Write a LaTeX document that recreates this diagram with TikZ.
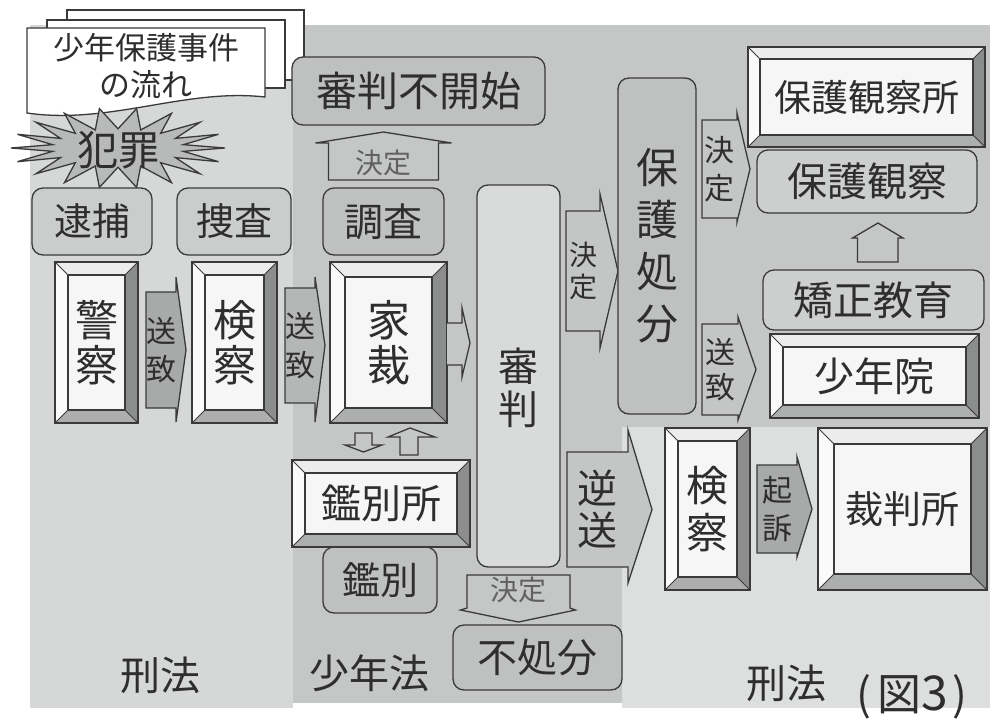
\documentclass[tikz,border=0pt]{standalone}
\usepackage{fontspec}
\setmainfont{Noto Sans CJK JP}
\pgfdeclarelayer{panel}
\pgfdeclarelayer{back}
\pgfsetlayers{panel,back,main}
\definecolor{pL}{HTML}{D6D8D8}
\definecolor{pM}{HTML}{C5C6C6}
\definecolor{pR}{HTML}{DDDFDF}
\definecolor{txt}{HTML}{2E2E2E}
\definecolor{lnc}{HTML}{3A3A3A}
\definecolor{rfL}{HTML}{CBCDCD}
\definecolor{rfM}{HTML}{BFC0C0}
\definecolor{rfS}{HTML}{D9DADA}
\definecolor{rfR}{HTML}{CDCECE}
\definecolor{afD}{HTML}{A8A9A9}
\definecolor{afM}{HTML}{B5B6B6}
\definecolor{afL}{HTML}{C4C5C5}
\definecolor{bvT}{HTML}{ECECEC}
\definecolor{bvL}{HTML}{FAFAFA}
\definecolor{bvR}{HTML}{8C8D8D}
\definecolor{bvB}{HTML}{ADAEAE}
\definecolor{bvI}{HTML}{F6F6F6}
\definecolor{burst}{HTML}{B8B9B9}
\newcommand\jfs[2]{\fontsize{#1}{#2}\selectfont}
\newcommand\bevw{13pt}
\newcommand\blockarrow[5]{\begin{pgfonlayer}{back}\draw[ink, fill=#2] (#1.south west) -- (#1.north west) -- (#1.north east) -- ([yshift=#3]#1.north east) -- ([xshift=#5]#1.east) -- ([yshift=-#4]#1.south east) -- (#1.south east) -- cycle;\end{pgfonlayer}}
\tikzset{
  ink/.style={draw=lnc, line width=1.3pt, line join=miter},
  rbox/.style={ink, rounded corners=11pt, inner sep=0pt, outer sep=0pt, text=txt, align=center},
  bw/.code={\renewcommand\bevw{#1}},
  bevel/.style={ink, fill=bvI, inner sep=0pt, outer sep=0pt, text=txt, align=center,
    path picture={
      \path (path picture bounding box.north west) coordinate (q1)
            (path picture bounding box.north east) coordinate (q2)
            (path picture bounding box.south east) coordinate (q3)
            (path picture bounding box.south west) coordinate (q4);
      \path ([xshift=\bevw,yshift=-\bevw]q1) coordinate (p1)
            ([xshift=-\bevw,yshift=-\bevw]q2) coordinate (p2)
            ([xshift=-\bevw,yshift=\bevw]q3) coordinate (p3)
            ([xshift=\bevw,yshift=\bevw]q4) coordinate (p4);
      \fill[bvT] (q1)--(q2)--(p2)--(p1)--cycle;
      \fill[bvL] (q1)--(p1)--(p4)--(q4)--cycle;
      \fill[bvR] (q2)--(q3)--(p3)--(p2)--cycle;
      \fill[bvB] (q4)--(p4)--(p3)--(q3)--cycle;
      \draw[lnc, line width=1.1pt] (p1) rectangle (p3);
      \draw[lnc, line width=0.8pt] (q1)--(p1) (q2)--(p2) (q3)--(p3) (q4)--(p4);
    }},
  abody/.style={inner sep=0pt, outer sep=0pt, text=txt, align=center},
  plain/.style={inner sep=0pt, text=txt, align=center},
}
\begin{document}
\begin{tikzpicture}[x=1pt,y=-1pt]
\useasboundingbox (0,0) rectangle (998,718);
\begin{pgfonlayer}{panel}
\fill[white] (0,0) rectangle (998,718);
\fill[pL] (30,25) rectangle (293,708);
\fill[pM] (293,25) rectangle (622,703);
\fill[pM] (622,25) rectangle (990,427);
\fill[pR] (622,427) rectangle (990,708);
\end{pgfonlayer}

% document stack
\draw[ink, fill=white] (67,10) rectangle (304,80);
\draw[ink, fill=white] (47,20) rectangle (285,88);
\draw[ink, fill=white] (27,28) -- (265,28) -- (265,97) .. controls (185,88) and (110,125) .. (27,113) -- cycle;
\node[plain, font=\jfs{31}{37}] (title) at (146,66) {少年保護事件\\の流れ};

% crime burst
\draw[ink, fill=burst] plot[samples=37, domain=0:360]
  ({118+107*(0.81+0.19*cos(18*\x))*cos(\x)}, {148+40*(0.74+0.26*cos(18*\x))*sin(\x)}) -- cycle;
\node[plain, font=\jfs{41}{42}] (crime) at (118,150) {犯罪};

% rounded boxes
\node[rbox, fill=rfL, minimum width=120pt, minimum height=67pt, font=\jfs{38}{40}] (taiho) at (92,221.5) {逮捕};
\node[rbox, fill=rfL, minimum width=114pt, minimum height=67pt, font=\jfs{38}{40}] (sousa) at (234,221.5) {捜査};
\node[rbox, fill=rfM, minimum width=121pt, minimum height=67pt, font=\jfs{39}{40}] (chousa) at (383.5,221.5) {調査};
\node[rbox, fill=rfM, minimum width=253pt, minimum height=68pt, font=\jfs{41}{43}] (fukaishi) at (418.5,91) {審判不開始};
\node[rbox, fill=rfS, minimum width=83pt, minimum height=382pt, font=\jfs{40}{43}] (shinpan) at (518.5,376) {\rule{0pt}{57pt}審\\判};
\node[rbox, fill=rfM, minimum width=114pt, minimum height=66pt, font=\jfs{38}{40}] (kanbetsu) at (380,580) {鑑別};
\node[rbox, fill=rfM, minimum width=169pt, minimum height=65pt, font=\jfs{40}{42}] (fushobun) at (537.5,657.5) {不処分};
\node[rbox, fill=rfM, minimum width=78pt, minimum height=336pt, font=\jfs{42}{52}] (hogoshobun) at (657,246) {保\\護\\処\\分};
\node[rbox, fill=rfR, minimum width=220pt, minimum height=63pt, font=\jfs{40}{42}] (hogokansatsu) at (867,181.5) {保護観察};
\node[rbox, fill=rfR, minimum width=221pt, minimum height=60pt, font=\jfs{40}{42}] (kyousei) at (873.5,300) {矯正教育};

% bevel boxes
\node[bevel, minimum width=83pt, minimum height=161pt, font=\jfs{43}{45}] (keisatsu) at (96.5,342.5) {警\\察};
\node[bevel, minimum width=85pt, minimum height=161pt, font=\jfs{43}{45}] (kensatsuL) at (234.5,342.5) {検\\察};
\node[bevel, bw=15pt, minimum width=117pt, minimum height=161pt, font=\jfs{43}{45}] (kasai) at (388.5,342.5) {家\\裁};
\node[bevel, minimum width=178pt, minimum height=87pt, font=\jfs{40}{42}] (kanbetsusho) at (381,503.5) {鑑別所};
\node[bevel, bw=12pt, minimum width=237pt, minimum height=100pt, font=\jfs{37}{40}] (hogokansatsusho) at (866.5,97) {保護観察所};
\node[bevel, minimum width=209pt, minimum height=84pt, font=\jfs{40}{42}] (shounenin) at (874.5,376) {少年院};
\node[bevel, minimum width=85pt, minimum height=162pt, font=\jfs{42}{47}] (kensatsuR) at (707.5,509) {検\\察};
\node[bevel, bw=16pt, minimum width=169pt, minimum height=162pt, font=\jfs{38}{40}] (saibansho) at (902.5,509) {裁判所};

% block arrows
\node[abody, minimum width=28pt, minimum height=116pt, font=\jfs{30}{38}] (sd1) at (161,350) {送\\致};
\blockarrow{sd1}{afD}{15pt}{14pt}{10pt}
\node[abody, minimum width=30pt, minimum height=115pt, font=\jfs{30}{39}] (sd2) at (300,345.5) {送\\致};
\blockarrow{sd2}{afM}{11pt}{19pt}{10pt}
\node[abody, minimum width=34pt, minimum height=120pt, font=\jfs{28}{32}] (kt1) at (583,271) {決\\定};
\blockarrow{kt1}{afL}{17pt}{17pt}{18pt}
\node[abody, minimum width=35pt, minimum height=98pt, font=\jfs{30}{38}] (kt2) at (719.5,169) {決\\定};
\blockarrow{kt2}{afL}{7pt}{4pt}{13pt}
\node[abody, minimum width=36pt, minimum height=91pt, font=\jfs{30}{35}] (sd3) at (720,369.5) {送\\致};
\blockarrow{sd3}{afL}{7pt}{5pt}{18pt}
\node[abody, minimum width=61pt, minimum height=115pt, font=\jfs{40}{42}] (gyakusou) at (597.5,509.5) {逆\\送};
\blockarrow{gyakusou}{afL}{22pt}{16pt}{24pt}
\node[abody, minimum width=40pt, minimum height=88pt, font=\jfs{30}{38}] (kiso) at (777,509) {起\\訴};
\blockarrow{kiso}{afD}{8pt}{4pt}{15pt}

% decision house arrow: chousa -> fukaishi
\node[abody, font=\jfs{28}{30}, text=black!62] (kt0) at (383.5,163) {決定};
\begin{pgfonlayer}{back}
\draw[ink, fill=pM, shift={(chousa.north)}] (-55,-8) -- (-55,-45) -- (-68,-45) -- (0,-56) -- (68,-45) -- (55,-45) -- (55,-8) -- cycle;
\end{pgfonlayer}

% decision down arrow: shinpan -> fushobun
\node[abody, font=\jfs{28}{30}, text=black!62] (kt3) at (518,590) {決定};
\begin{pgfonlayer}{back}
\draw[ink, fill=pM, shift={(shinpan.south)}] (-51.5,8) -- (51.5,8) -- (51.5,41) -- (57,43) -- (0,55) -- (-58,43) -- (-51.5,41) -- cycle;
\end{pgfonlayer}

% small arrows
\draw[ink, fill=pM, shift={(kasai.east)}] (0,-19.5) -- (15,-19.5) -- (15,-34.5) -- (23,0.5) -- (15,34.5) -- (15,22.5) -- (0,22.5);
\draw[ink, fill=pM, shift={(kasai.south)}] (-33.5,10) -- (-16.5,10) -- (-16.5,22) -- (-6.5,22) -- (-25,29) -- (-43.5,22) -- (-33.5,22) -- cycle;
\draw[ink, fill=pM, shift={(kanbetsusho.north)}] (19,-5) -- (19,-23) -- (7,-23) -- (29,-32) -- (54,-23) -- (37,-23) -- (37,-5) -- cycle;
\draw[ink, fill=pM, shift={(kyousei.north)}] (-16,-8) -- (-16,-32) -- (-21,-32) -- (4.5,-47) -- (29.5,-32) -- (24.5,-32) -- (24.5,-8) -- cycle;

% section labels
\node[plain, font=\jfs{40}{42}] (keihouL) at (160,675) {刑法};
\node[plain, font=\jfs{40}{42}] (shounenhou) at (369,673) {少年法};
\node[plain, font=\jfs{40}{42}] (keihouR) at (786,683) {刑法};
\node[plain, font=\jfs{44}{46}] (fig) at (912,697) {(\hspace{6pt}図{\fontsize{48}{48}\selectfont 3}\hspace{5pt})};
\end{tikzpicture}
\end{document}
